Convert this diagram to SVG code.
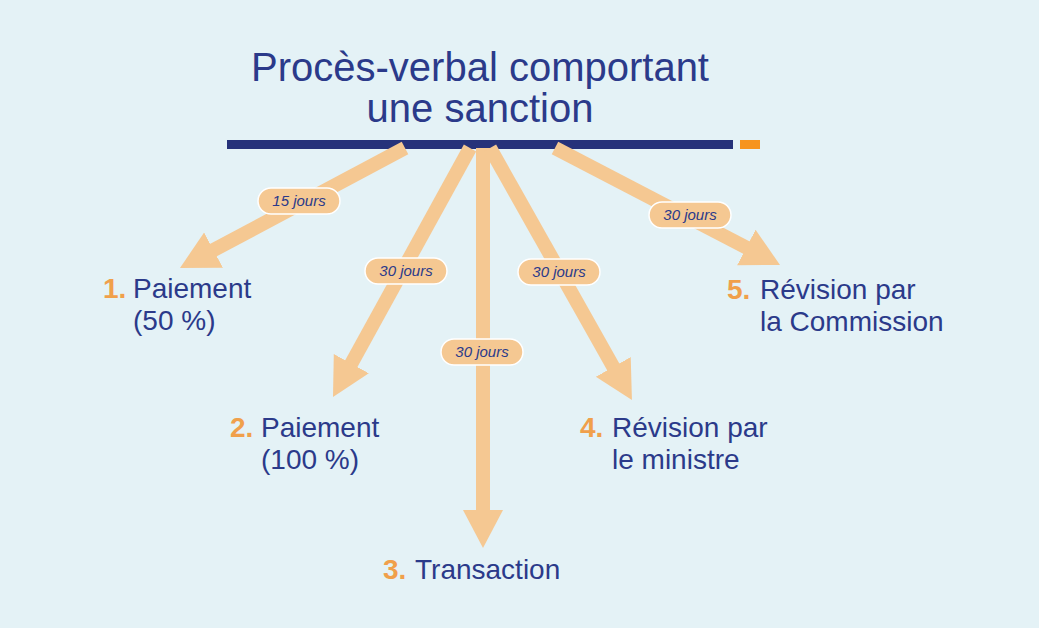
<svg xmlns="http://www.w3.org/2000/svg" width="1039" height="628" viewBox="0 0 1039 628">
<style>
.t{font-family:"Liberation Sans",Arial,sans-serif;fill:#2B3A8A}
.n{font-family:"Liberation Sans",Arial,sans-serif;fill:#F0A04B;font-weight:bold}
.a{stroke:#F5C892;stroke-width:14;fill:none}
.p{fill:#F5C892;stroke:#fff;stroke-width:1.5}
.l{font-family:"Liberation Sans",Arial,sans-serif;font-style:italic;font-size:15px;fill:#2B3A8A;text-anchor:middle}
</style>
<defs><marker id="h" markerUnits="userSpaceOnUse" markerWidth="40" markerHeight="44" refX="10" refY="22" orient="auto" viewBox="0 0 40 44"><path d="M0,2 L38,22 L0,42 z" fill="#F5C892"/></marker></defs>
<rect width="1039" height="628" fill="#E4F2F6"/>
<g id="title"><text class="t" font-size="40" x="480" y="81" text-anchor="middle">Procès-verbal comportant</text><text class="t" font-size="40" x="480" y="122" text-anchor="middle">une sanction</text>
<rect x="227" y="140" width="506" height="9" fill="#26327A"/><rect x="740" y="140" width="20" height="9" fill="#F7941D"/></g>
<g id="connectors">
<line class="a" x1="405" y1="148" x2="204.7" y2="254.8" marker-end="url(#h)"/>
<line class="a" x1="470" y1="148" x2="346.5" y2="372.4" marker-end="url(#h)"/>
<line class="a" x1="483" y1="148" x2="483" y2="520" marker-end="url(#h)"/>
<line class="a" x1="490" y1="148" x2="618.2" y2="375.6" marker-end="url(#h)"/>
<line class="a" x1="555" y1="148" x2="755.2" y2="252.1" marker-end="url(#h)"/>
<rect class="p" x="258" y="188" width="82" height="26" rx="13"/><text class="l" x="299" y="206">15 jours</text>
<rect class="p" x="365" y="258" width="82" height="26" rx="13"/><text class="l" x="406" y="276">30 jours</text>
<rect class="p" x="441" y="339" width="82" height="26" rx="13"/><text class="l" x="482" y="357">30 jours</text>
<rect class="p" x="518" y="259" width="82" height="26" rx="13"/><text class="l" x="559" y="277">30 jours</text>
<rect class="p" x="649" y="202" width="82" height="26" rx="13"/><text class="l" x="690" y="220">30 jours</text>
</g>
<g id="n1"><text class="n" font-size="28" x="103" y="298">1.</text><text class="t" font-size="28" x="133" y="298">Paiement</text><text class="t" font-size="28" x="133" y="330">(50 %)</text></g>
<g id="n2"><text class="n" font-size="28" x="230" y="437">2.</text><text class="t" font-size="28" x="261" y="437">Paiement</text><text class="t" font-size="28" x="261" y="469">(100 %)</text></g>
<g id="n3"><text class="n" font-size="28" x="383" y="579">3.</text><text class="t" font-size="28" x="415" y="579">Transaction</text></g>
<g id="n4"><text class="n" font-size="28" x="580" y="437">4.</text><text class="t" font-size="28" x="612" y="437">Révision par</text><text class="t" font-size="28" x="612" y="469">le ministre</text></g>
<g id="n5"><text class="n" font-size="28" x="727" y="299">5.</text><text class="t" font-size="28" x="760" y="299">Révision par</text><text class="t" font-size="28" x="760" y="331">la Commission</text></g>
</svg>
